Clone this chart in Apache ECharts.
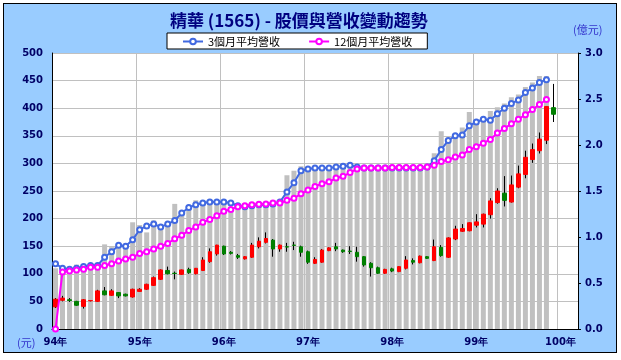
<!DOCTYPE html>
<html><head><meta charset="utf-8">
<script src="https://cdn.jsdelivr.net/npm/echarts@6/dist/echarts.min.js"></script>
<style>
html,body{margin:0;padding:0;background:#fff;}
#frame{position:absolute;left:3px;top:3px;width:612px;height:348px;background:#99ccff;border:1px solid #000;}
#chart{position:absolute;left:0;top:0;width:621px;height:360px;}
</style></head><body>
<div id="frame"></div>
<div id="chart"></div>
<script>
const categories = [
 '94/01','94/02','94/03','94/04','94/05','94/06','94/07','94/08','94/09','94/10','94/11','94/12',
 '95/01','95/02','95/03','95/04','95/05','95/06','95/07','95/08','95/09','95/10','95/11','95/12',
 '96/01','96/02','96/03','96/04','96/05','96/06','96/07','96/08','96/09','96/10','96/11','96/12',
 '97/01','97/02','97/03','97/04','97/05','97/06','97/07','97/08','97/09','97/10','97/11','97/12',
 '98/01','98/02','98/03','98/04','98/05','98/06','98/07','98/08','98/09','98/10','98/11','98/12',
 '99/01','99/02','99/03','99/04','99/05','99/06','99/07','99/08','99/09','99/10','99/11','99/12',
 '100/01','100/02','100/03'];
const tickLabels = ['94年','95年','96年','97年','98年','99年','100年'];

// monthly stock price (元)
const openPrice  = [40,52,53,50,41,51,50,69,61,66,63,58, 68,72,79,90,106,101,99,108,100,106,122,136,
                    150,139,133,127,130,149,157,161,145,149,152,149, 140,119,121,142,149,143,141,139,131,119,111,101,
                    109,104,110,124,120,131,124,148,130,163,177,178, 188,190,207,229,246,230,257,280,307,323,342,401];
const closePrice = [54,56,51.5,43,53,51.5,69,62,69,60,60,72, 72,81,93,107,100,100.5,107,102,110,125,140,152,
                    136,137,130,131,152,159,164,145,152,148.5,151.5,139, 121,126,143,147,145,140,140.5,131,116,111,101,108,
                    105,113,125,121,132,128,149,133,165,181,182,192.5, 194,208,232,250,233,261,281,311,325,344,403,389];
const lowPrice   = [38,50,49,42,37,50,49,61,60,56,59,57, 67,71,78,89,99,90,98,100,99,105,120,133,
                    134,135,127,126,129,146,155,131,140,140,143,131, 118,118,120,141,141,138,136,122,113,95,100,100,
                    103,103,108,117,119,127,123,131,129,161,176,177, 184,184,200,227,222,229,255,273,301,318,335,375];
const highPrice  = [56,60,56,51,54,52.5,71,76,72,67,64,73, 74,82,95,108,113,104,107.5,111,110.5,130,146,152.5,
                    151,141,136,132,156,166,175,163,153,156,158,151, 142,130,145,148,156,144,150,149,132,121,113,109,
                    111,113.5,132,128,133,132,162,152,166,187,190,193, 208,209,237,255,277,278,296,323,336,356,404,444];

// monthly revenue (億元)
const revenue = [0.66,0.62,0.65,0.70,0.66,0.70,0.71,0.92,0.89,0.93,0.87,1.16,
                 1.13,1.05,1.18,1.08,1.14,1.36,1.26,1.34,1.40,1.37,1.38,1.40,
                 1.38,1.32,1.32,1.33,1.34,1.35,1.36,1.40,1.40,1.67,1.72,1.77,
                 1.73,1.75,1.75,1.75,1.76,1.80,1.78,1.73,1.75,1.75,1.75,1.75,
                 1.75,1.75,1.75,1.75,1.75,1.76,1.91,2.15,2.08,2.07,2.19,2.36,
                 2.22,2.26,2.37,2.41,2.45,2.52,2.55,2.63,2.68,2.75,2.75];
const avg3 = [0.71,0.66,0.65,0.66,0.68,0.69,0.69,0.78,0.84,0.91,0.90,0.97,
              1.08,1.12,1.14,1.11,1.14,1.18,1.26,1.32,1.35,1.37,1.38,1.38,
              1.38,1.37,1.34,1.33,1.34,1.35,1.35,1.36,1.38,1.49,1.59,1.72,
              1.74,1.75,1.75,1.75,1.76,1.77,1.78,1.76,1.75,1.75,1.75,1.75,
              1.75,1.75,1.75,1.75,1.75,1.76,1.83,1.95,2.05,2.10,2.11,2.21,
              2.25,2.28,2.27,2.34,2.40,2.45,2.49,2.57,2.62,2.68,2.71];
const avg12 = [0,0.62,0.63,0.64,0.65,0.67,0.67,0.69,0.71,0.74,0.76,0.78,
               0.82,0.84,0.87,0.90,0.93,0.98,1.02,1.07,1.11,1.16,1.19,1.23,
               1.28,1.30,1.33,1.34,1.35,1.355,1.36,1.37,1.37,1.40,1.42,1.47,
               1.51,1.55,1.58,1.60,1.64,1.66,1.70,1.74,1.75,1.75,1.75,1.75,
               1.755,1.755,1.755,1.755,1.755,1.76,1.78,1.82,1.84,1.87,1.89,1.95,
               1.98,2.02,2.06,2.13,2.18,2.23,2.28,2.33,2.385,2.44,2.495];

const wickData = openPrice.map((o, i) => [o, closePrice[i], lowPrice[i], highPrice[i]]);
const bodyData = openPrice.map((o, i) => [o, closePrice[i], Math.min(o, closePrice[i]), Math.max(o, closePrice[i])]);

const labelStyle = {color: '#000066', fontWeight: 'bold', fontSize: 10, fontFamily: 'DejaVu Sans'};
const chart = echarts.init(document.getElementById('chart'), null, {renderer: 'canvas'});
chart.setOption({
  animation: false,
  backgroundColor: 'transparent',
  title: {
    text: '精華 (1565) - 股價與營收變動趨勢',
    left: 165, top: 7,
    textStyle: {fontFamily: 'Noto Sans CJK TC', fontSize: 17, fontWeight: 'bold', color: '#000080'}
  },
  legend: {
    data: ['3個月平均營收', '12個月平均營收'],
    left: 167, top: 33,
    backgroundColor: '#fff', borderColor: '#000', borderWidth: 1,
    padding: [3, 15, 2, 15], itemWidth: 20, itemHeight: 7, itemGap: 28,
    textStyle: {fontSize: 11, color: '#000', fontFamily: 'Noto Sans CJK TC'}
  },
  graphic: [
    {type: 'text', left: 17, top: 337, style: {text: '(元)', fill: '#3333cc', fontSize: 11, fontFamily: 'Noto Sans CJK TC'}},
    {type: 'text', left: 573, top: 24, style: {text: '(億元)', fill: '#3333cc', fontSize: 11, fontFamily: 'Noto Sans CJK TC'}}
  ],
  grid: {left: 52, top: 53, width: 526, height: 276, show: true, backgroundColor: '#fff', borderWidth: 0},
  xAxis: {
    type: 'category', data: categories, boundaryGap: true,
    axisLine: {lineStyle: {color: '#000', width: 1}},
    axisTick: {show: false},
    axisLabel: Object.assign({interval: 11, margin: 8, formatter: (v, i) => tickLabels[Math.round(i / 12)]}, labelStyle),
    splitLine: {show: true, interval: 11, lineStyle: {color: '#c0c0c0', width: 1}}
  },
  yAxis: [
    {type: 'value', min: 0, max: 500, interval: 50, position: 'left',
     axisLine: {show: true, lineStyle: {color: '#000', width: 1}},
     axisTick: {show: false},
     axisLabel: Object.assign({margin: 9}, labelStyle),
     splitLine: {show: true, lineStyle: {color: '#c0c0c0', width: 1}}},
    {type: 'value', min: 0, max: 3, interval: 0.5, position: 'right',
     axisLine: {show: true, lineStyle: {color: '#000', width: 1}},
     axisTick: {show: true, length: 3, lineStyle: {color: '#000'}},
     axisLabel: Object.assign({margin: 7, formatter: v => v.toFixed(1)}, labelStyle),
     splitLine: {show: false}}
  ],
  series: [
    {name: '營收', type: 'bar', yAxisIndex: 1, data: revenue, barWidth: 5,
     itemStyle: {color: '#c0c0c0'}, z: 1},
    {name: 'wick', type: 'candlestick', data: wickData, barWidth: 0.5,
     itemStyle: {color: '#000', color0: '#000', borderColor: '#000', borderColor0: '#000', borderWidth: 1}, z: 2},
    {name: 'body', type: 'candlestick', data: bodyData, barWidth: 4,
     itemStyle: {color: '#ff0000', color0: '#008000', borderColor: '#ff0000', borderColor0: '#008000', borderWidth: 1}, z: 3},
    {name: '3個月平均營收', type: 'line', yAxisIndex: 1, data: avg3,
     symbol: 'emptyCircle', symbolSize: 5, showSymbol: true, showAllSymbol: true,
     lineStyle: {color: '#4169e1', width: 2}, itemStyle: {color: '#4169e1', borderWidth: 1}, z: 4},
    {name: '12個月平均營收', type: 'line', yAxisIndex: 1, data: avg12,
     symbol: 'emptyCircle', symbolSize: 5, showSymbol: true, showAllSymbol: true,
     lineStyle: {color: '#ff00ff', width: 2}, itemStyle: {color: '#ff00ff', borderWidth: 1}, z: 5}
  ]
});
</script>
</body></html>
